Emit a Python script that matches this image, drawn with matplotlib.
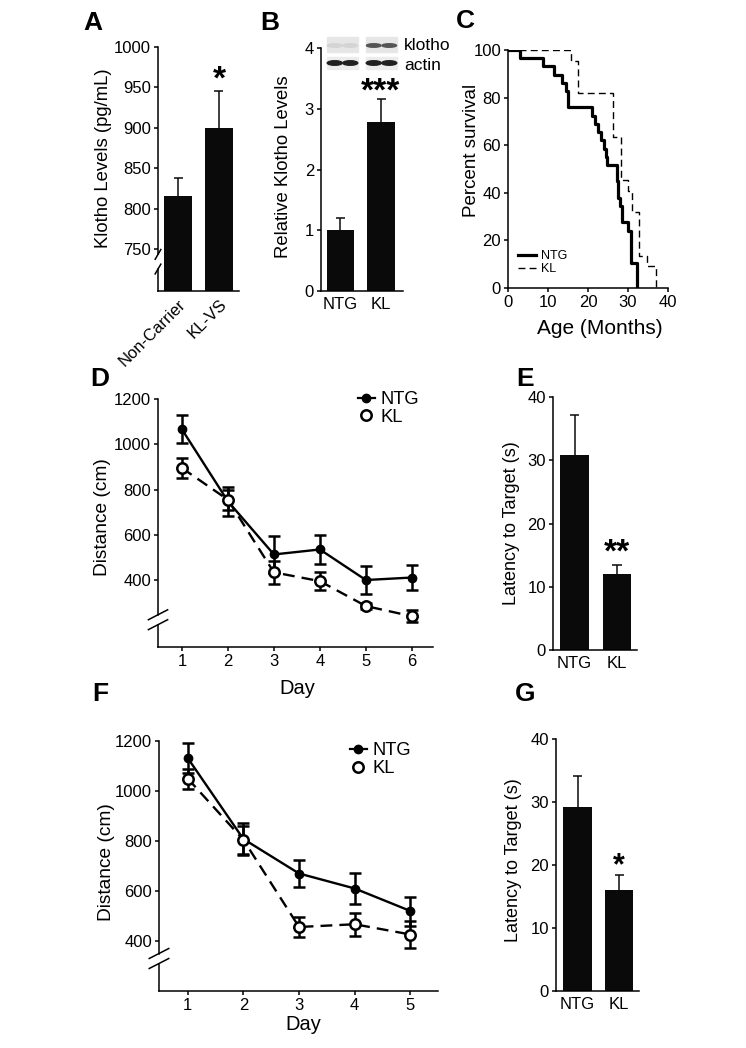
import matplotlib
matplotlib.use("Agg")
import matplotlib.pyplot as plt
from matplotlib.lines import Line2D
from matplotlib.patches import Rectangle, Ellipse

plt.rcParams['font.family'] = ['Liberation Sans', 'DejaVu Sans']

# ---------------- data ----------------
# Panel A
a_groups = ["Non-Carrier", "KL-VS"]
a_means = [815, 900]
a_sem = [23, 46]
a_ticks = [750, 800, 850, 900, 950, 1000]
# Panel B
b_groups = ["NTG", "KL"]
b_means = [1.0, 2.79]
b_sem = [0.2, 0.37]
b_ticks = [0, 1, 2, 3, 4]
# Panel C (Kaplan-Meier steps)
c_ntg_t = [0, 3.0, 8.7, 11.5, 13.4, 14.4, 15.1, 21.1, 21.8, 22.5, 23.25, 24.1,
           24.5, 24.8, 27.2, 27.5, 28.1, 28.4, 30.1, 30.7, 32.3]
c_ntg_s = [100, 96.6, 93.1, 89.7, 86.2, 82.8, 75.9, 72.4, 69.0, 65.5, 62.1, 58.6,
           55.2, 51.7, 44.8, 37.9, 34.5, 27.6, 24.1, 10.3, 0]
c_kl_t = [0, 15.7, 17.6, 26.2, 28.25, 30.1, 30.9, 32.75, 34.7, 37.0]
c_kl_s = [100, 95.5, 81.8, 63.6, 45.5, 40.9, 31.8, 13.6, 9.1, 0]
c_xticks = [0, 10, 20, 30, 40]
c_yticks = [0, 20, 40, 60, 80, 100]
# Panel D
d_days = [1, 2, 3, 4, 5, 6]
d_ntg = [1066, 748, 513, 535, 400, 411]
d_ntg_err = [62, 65, 82, 66, 62, 55]
d_kl = [895, 755, 434, 395, 285, 240]
d_kl_err = [45, 45, 52, 41, 12, 27]
# Panel E
e_groups = ["NTG", "KL"]
e_means = [30.9, 12.0]
e_sem = [6.3, 1.4]
# Panel F
f_days = [1, 2, 3, 4, 5]
f_ntg = [1132, 808, 670, 610, 520]
f_ntg_err = [60, 65, 55, 62, 58]
f_kl = [1050, 805, 456, 467, 426]
f_kl_err = [40, 55, 40, 45, 55]
# Panel G
g_groups = ["NTG", "KL"]
g_means = [29.2, 16.0]
g_sem = [4.9, 2.4]
dist_ticks = [400, 600, 800, 1000, 1200]
lat_ticks = [0, 10, 20, 30, 40]

# ---------------- layout helpers ----------------
W, H = 746, 1048
fig = plt.figure(figsize=(W / 100, H / 100), dpi=100)
TICK_FS = 12


def add_ax(l, t, r, b):
    return fig.add_axes([l / W, 1 - b / H, (r - l) / W, (b - t) / H])


def style(ax, tick_fs=TICK_FS):
    for s in ("top", "right"):
        ax.spines[s].set_visible(False)
    for s in ("left", "bottom"):
        ax.spines[s].set_linewidth(1.1)
    ax.tick_params(axis="both", direction="out", length=3, width=1.1,
                   labelsize=tick_fs, pad=2)


def ylabel_px(ax, text, box, cx, cy, fs=13.3):
    l, t, r, b = box
    ax.set_ylabel(text, fontsize=fs)
    ax.yaxis.label.set_verticalalignment("center")
    ax.yaxis.set_label_coords((cx - l) / (r - l), (b - cy) / (b - t))


def xlabel_px(ax, text, box, cx, cy, fs=14.5):
    l, t, r, b = box
    ax.set_xlabel(text, fontsize=fs)
    ax.xaxis.label.set_verticalalignment("center")
    ax.xaxis.set_label_coords((cx - l) / (r - l), (b - cy) / (b - t))


def ftext(x, y, s, **kw):
    fig.text(x / W, 1 - y / H, s, **kw)


def broken_left(ax, gap_lo, gap_hi):
    # draw left spine with a break and two diagonal marks (axes fraction)
    ax.spines["left"].set_visible(False)
    kw = dict(transform=ax.transAxes, color="black", lw=1.1, clip_on=False)
    ax.plot([0, 0], [0, gap_lo], **kw)
    ax.plot([0, 0], [gap_hi, 1], **kw)
    dx, dy = 0.035, 0.02
    for yy in (gap_lo, gap_hi):
        ax.plot([-dx, dx], [yy - dy, yy + dy], **kw)


def bar_panel(ax, groups, means, sem, ticks, ylim, xlim):
    x = list(range(len(groups)))
    ax.bar(x, means, width=0.68, color="#0a0a0a", zorder=2)
    tops = [m + s for m, s in zip(means, sem)]
    ax.vlines(x, means, tops, color="#0a0a0a", lw=1.1, zorder=1)
    ax.hlines(tops, [xi - 0.11 for xi in x], [xi + 0.11 for xi in x],
              color="#0a0a0a", lw=1.1, zorder=1)
    ax.set_xticks(x)
    ax.set_xticklabels(groups, fontsize=TICK_FS)
    ax.tick_params(axis="x", length=0, pad=4)
    ax.set_yticks(ticks)
    ax.set_ylim(*ylim)
    ax.set_xlim(*xlim)


# ---------------- Panel A ----------------
boxA = (158, 47, 239, 291)
axA = add_ax(*boxA)
style(axA)
bar_panel(axA, a_groups, a_means, a_sem, a_ticks, (698, 1000), (-0.49, 1.49))
for lab in axA.get_xticklabels():
    lab.set_rotation(45)
    lab.set_ha("right")
    lab.set_rotation_mode("anchor")
broken_left(axA, 0.09, 0.15)
ylabel_px(axA, "Klotho Levels (pg/mL)", boxA, 103, 158)
ftext(219, 80, "*", fontsize=24, ha="center", va="center", fontweight="bold")

# ---------------- Panel B ----------------
boxB = (321, 48, 403, 291)
axB = add_ax(*boxB)
style(axB)
bar_panel(axB, b_groups, b_means, b_sem, b_ticks, (0, 4), (-0.48, 1.54))
ylabel_px(axB, "Relative Klotho Levels", boxB, 283, 167)
ftext(381, 92, "***", fontsize=24, ha="center", va="center", fontweight="bold")
# western blot inset (decorative)
for (x0, x1, klc) in ((327, 358, "#d4d4d4"), (366, 397, "#555555")):
    fig.patches.append(Rectangle((x0 / W, 1 - 52 / H), (x1 - x0) / W, 15 / H,
                                 transform=fig.transFigure, color="#e6e6e6", zorder=0))
    fig.patches.append(Rectangle((x0 / W, 1 - 69 / H), (x1 - x0) / W, 12 / H,
                                 transform=fig.transFigure, color="#ececec", zorder=0))
    half = (x1 - x0) / 2
    for k in range(2):
        cx = x0 + half * (k + 0.5)
        fig.patches.append(Ellipse((cx / W, 1 - 45.5 / H), (half - 1) / W, 3.5 / H,
                                   transform=fig.transFigure, color=klc, zorder=1))
        fig.patches.append(Ellipse((cx / W, 1 - 63 / H), (half - 0.5) / W, 4.5 / H,
                                   transform=fig.transFigure, color="#202020", zorder=1))
ftext(404, 46, "klotho", fontsize=12.5, ha="left", va="center")
ftext(404, 66, "actin", fontsize=12.5, ha="left", va="center")

# ---------------- Panel C ----------------
boxC = (508, 50, 668, 288)
axC = add_ax(*boxC)
style(axC)
axC.step(c_ntg_t, c_ntg_s, where="post", color="black", lw=2.3, label="NTG")
axC.step(c_kl_t, c_kl_s, where="post", color="black", lw=1.0,
         linestyle=(0, (5, 3)), label="KL")
axC.set_xlim(0, 40)
axC.set_ylim(0, 100)
axC.set_xticks(c_xticks)
axC.set_yticks(c_yticks)
ylabel_px(axC, "Percent survival", boxC, 472, 150, fs=13.5)
xlabel_px(axC, "Age (Months)", boxC, 600, 328, fs=15)
axC.legend(loc="upper left", bbox_to_anchor=((518 - 508) / 160, (288 - 250) / 238),
           frameon=False, fontsize=9, handlelength=1.4, handletextpad=0.4,
           labelspacing=0.1, borderpad=0, borderaxespad=0)


# ---------------- line panels ----------------
def line_panel(ax, days, ntg, ntg_err, kl, kl_err):
    ax.errorbar(days, ntg, yerr=ntg_err, color="black", lw=1.7, elinewidth=1.8,
                capsize=4, capthick=1.8, marker="o", ms=6, mfc="black",
                mec="black", zorder=3)
    ax.errorbar(days, kl, yerr=kl_err, color="black", lw=1.7, elinewidth=1.8,
                capsize=4, capthick=1.8, marker="o", ms=7.5, mfc="white",
                mec="black", mew=1.8, linestyle=(0, (5, 3)), zorder=4)
    ax.set_xticks(days)
    ax.set_yticks(dist_ticks)
    handles = [Line2D([], [], color="black", lw=1.6, marker="o", ms=6, mfc="black"),
               Line2D([], [], color="black", lw=1.6, marker="o", ms=7.5,
                      mfc="white", mew=1.8, linestyle="none")]
    return handles


boxD = (158, 399, 433, 647)
axD = add_ax(*boxD)
style(axD)
hD = line_panel(axD, d_days, d_ntg, d_ntg_err, d_kl, d_kl_err)
axD.set_xlim(0.48, 6.46)
axD.set_ylim(104, 1200)
broken_left(axD, 0.09, 0.13)
ylabel_px(axD, "Distance (cm)", boxD, 103, 517, fs=13.8)
xlabel_px(axD, "Day", boxD, 297, 689)
axD.legend(hD, ["NTG", "KL"], loc="upper left",
           bbox_to_anchor=((358 - 158) / 275, (647 - 391) / 248), frameon=False,
           fontsize=13.2, handlelength=0.9, handletextpad=0.3, labelspacing=0.05,
           borderpad=0, borderaxespad=0)

boxF = (159, 741, 438, 991)
axF = add_ax(*boxF)
style(axF)
hF = line_panel(axF, f_days, f_ntg, f_ntg_err, f_kl, f_kl_err)
axF.set_xlim(0.485, 5.495)
axF.set_ylim(200, 1200)
broken_left(axF, 0.11, 0.15)
ylabel_px(axF, "Distance (cm)", boxF, 107, 862, fs=13.8)
xlabel_px(axF, "Day", boxF, 303, 1025)
axF.legend(hF, ["NTG", "KL"], loc="upper left",
           bbox_to_anchor=((350 - 159) / 279, (991 - 742) / 250), frameon=False,
           fontsize=13.2, handlelength=0.9, handletextpad=0.3, labelspacing=0.05,
           borderpad=0, borderaxespad=0)

# ---------------- Panel E ----------------
boxE = (553, 397, 637, 650)
axE = add_ax(*boxE)
style(axE)
bar_panel(axE, e_groups, e_means, e_sem, lat_ticks, (0, 40), (-0.506, 1.47))
ylabel_px(axE, "Latency to Target (s)", boxE, 512, 523, fs=13)
ftext(617, 553, "**", fontsize=24, ha="center", va="center", fontweight="bold")

# ---------------- Panel G ----------------
boxG = (556, 739, 639, 991)
axG = add_ax(*boxG)
style(axG)
bar_panel(axG, g_groups, g_means, g_sem, lat_ticks, (0, 40), (-0.52, 1.48))
ylabel_px(axG, "Latency to Target (s)", boxG, 513, 860, fs=13)
ftext(619, 866, "*", fontsize=22, ha="center", va="center", fontweight="bold")

# ---------------- panel letters ----------------
for (lx, ly, s) in ((93, 23, "A"), (270, 23, "B"), (465, 21, "C"),
                    (100, 379, "D"), (525, 379, "E"), (100, 694, "F"), (525, 694, "G")):
    ftext(lx, ly, s, fontsize=19, fontweight="bold", ha="center", va="center")

fig.savefig("out.png", dpi=100)
